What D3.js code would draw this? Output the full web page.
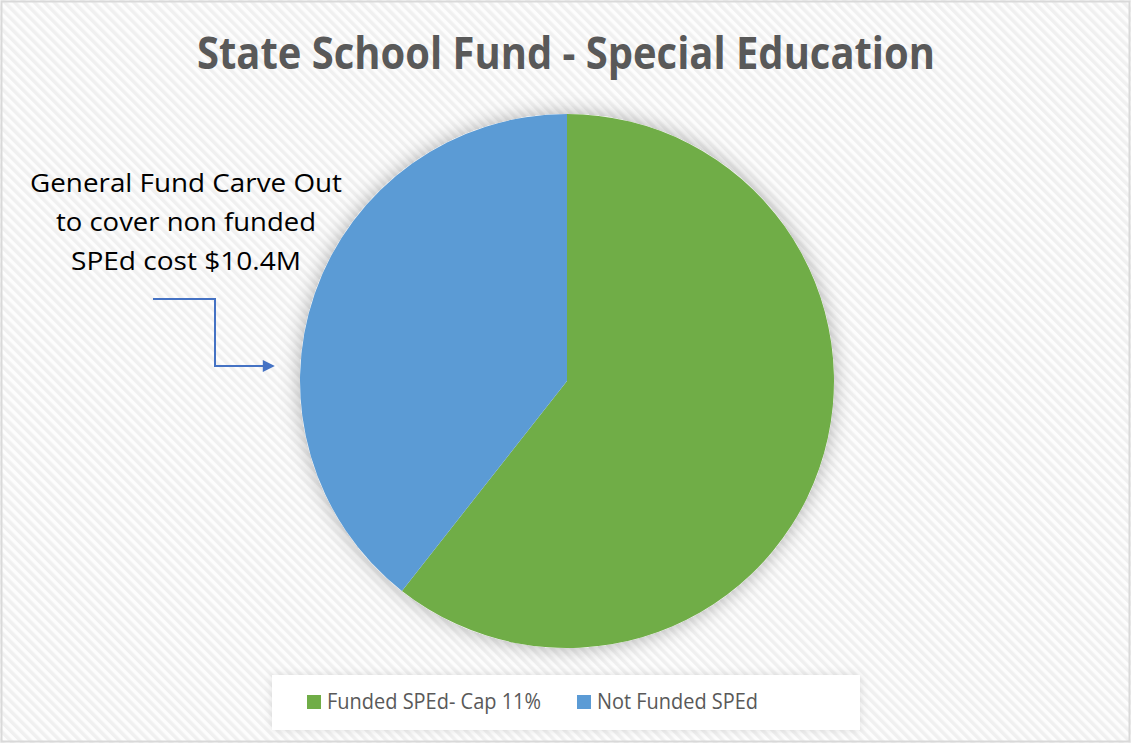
<!DOCTYPE html>
<html>
<head>
<meta charset="utf-8">
<script src="https://cdn.jsdelivr.net/npm/d3@7"></script>
<style>
  html, body { margin: 0; padding: 0; background: #fff; }
  svg { display: block; }
</style>
</head>
<body>
<svg id="chart" width="1131" height="743"></svg>
<script>
// Special education funding split (millions of dollars)
const categories = ["Funded SPEd- Cap 11%", "Not Funded SPEd"];
const values = [16.0, 10.4];
const colors = ["#70AD47", "#5B9BD5"];
const titleText = "State School Fund - Special Education";
const noteLines = ["General Fund Carve Out", "to cover non funded", "SPEd cost $10.4M"];

const W = 1131, H = 743;
const svg = d3.select("#chart");
const defs = svg.append("defs");

// Faint diagonal pinstripe backdrop
const pat = defs.append("pattern")
  .attr("id", "stripes")
  .attr("patternUnits", "userSpaceOnUse")
  .attr("width", 7).attr("height", 7)
  .attr("patternTransform", "rotate(-45)");
pat.append("rect").attr("width", 7).attr("height", 7).attr("fill", "#fdfdfd");
pat.append("rect").attr("width", 3.5).attr("height", 7).attr("fill", "#f0f0f0");

// Soft glow under the pie and legend
const glow = defs.append("filter").attr("id", "glow")
  .attr("x", "-20%").attr("y", "-20%").attr("width", "140%").attr("height", "140%");
glow.append("feDropShadow").attr("dx", 0).attr("dy", 0)
  .attr("stdDeviation", 10).attr("flood-color", "#000").attr("flood-opacity", 0.3);

const glowSmall = defs.append("filter").attr("id", "glowSmall")
  .attr("x", "-10%").attr("y", "-40%").attr("width", "120%").attr("height", "180%");
glowSmall.append("feDropShadow").attr("dx", 0).attr("dy", 0)
  .attr("stdDeviation", 4).attr("flood-color", "#000").attr("flood-opacity", 0.12);

const arrowHead = defs.append("marker").attr("id", "arrow")
  .attr("viewBox", "0 0 10 10").attr("refX", 1).attr("refY", 5)
  .attr("markerWidth", 13).attr("markerHeight", 12)
  .attr("markerUnits", "userSpaceOnUse")
  .attr("orient", "auto");
arrowHead.append("path").attr("d", "M0,0 L10,5 L0,10 Z").attr("fill", "#4472C4");

svg.append("rect").attr("x", 0).attr("y", 0).attr("width", W).attr("height", H)
  .attr("fill", "url(#stripes)");
svg.append("rect").attr("x", 1.5).attr("y", 1.5).attr("width", W - 3).attr("height", H - 3)
  .attr("fill", "none").attr("stroke", "#d9d9d9").attr("stroke-width", 2);

// Title
svg.append("text")
  .attr("x", 566).attr("y", 69)
  .attr("text-anchor", "middle")
  .attr("font-family", "'Open Sans', sans-serif")
  .attr("font-weight", 700)
  .attr("font-size", 44)
  .attr("fill", "#595959")
  .attr("textLength", 738)
  .attr("lengthAdjust", "spacingAndGlyphs")
  .text(titleText);

// Pie
const cx = 567, cy = 381, radius = 267;
const pie = d3.pie().sort(null).startAngle(0).endAngle(2 * Math.PI);
const arc = d3.arc().innerRadius(0).outerRadius(radius);
const color = d3.scaleOrdinal().domain(categories).range(colors);

const pieG = svg.append("g").attr("transform", `translate(${cx},${cy})`);
pieG.append("circle").attr("r", radius).attr("fill", "#fff").attr("filter", "url(#glow)");
pieG.selectAll("path.slice")
  .data(pie(values))
  .join("path")
  .attr("class", "slice")
  .attr("d", arc)
  .attr("fill", (d, i) => color(categories[i]));

// Callout text
const note = svg.append("text")
  .attr("font-family", "'Open Sans', sans-serif")
  .attr("font-size", 26)
  .attr("fill", "#000")
  .attr("text-anchor", "middle");
const noteWidths = [312, 260, 230];
noteLines.forEach((t, i) => {
  note.append("tspan")
    .attr("x", 186)
    .attr("y", 192 + i * 39)
    .attr("textLength", noteWidths[i])
    .attr("lengthAdjust", "spacingAndGlyphs")
    .text(t);
});

// Elbow connector pointing at the unfunded slice
svg.append("path")
  .attr("d", "M153,299 H215 V366 H264")
  .attr("fill", "none")
  .attr("stroke", "#4472C4")
  .attr("stroke-width", 2)
  .attr("marker-end", "url(#arrow)");

// Legend
const legend = svg.append("g");
legend.append("rect")
  .attr("x", 272).attr("y", 675).attr("width", 588).attr("height", 55)
  .attr("fill", "#fff").attr("filter", "url(#glowSmall)");
const legendX = [307, 577];
const legendW = [214, 161];
categories.forEach((c, i) => {
  legend.append("rect")
    .attr("x", legendX[i]).attr("y", 695)
    .attr("width", 14).attr("height", 14)
    .attr("fill", color(c));
  legend.append("text")
    .attr("x", legendX[i] + 20).attr("y", 709)
    .attr("font-family", "'Open Sans', sans-serif")
    .attr("font-size", 22)
    .attr("fill", "#595959")
    .attr("textLength", legendW[i])
    .attr("lengthAdjust", "spacingAndGlyphs")
    .text(c);
});
</script>
</body>
</html>
